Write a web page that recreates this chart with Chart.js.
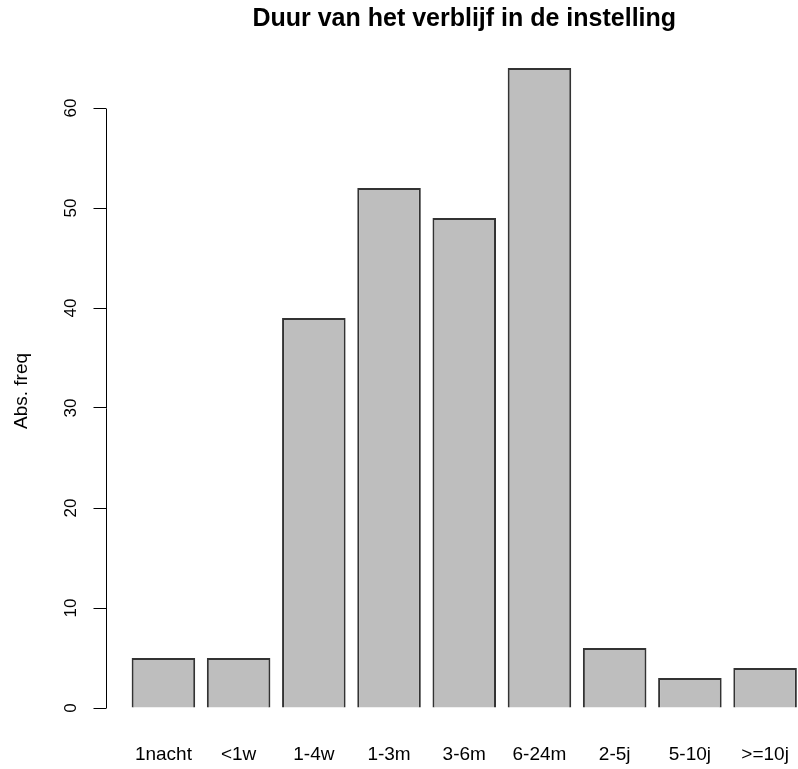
<!DOCTYPE html>
<html>
<head>
<meta charset="utf-8">
<script src="https://cdn.jsdelivr.net/npm/chart.js@4/dist/chart.umd.min.js"></script>
<style>
  html, body { margin: 0; padding: 0; background: #fff; overflow: hidden; }
  #wrap { width: 830px; height: 769px; }
</style>
</head>
<body>
<div id="wrap"><canvas id="verblijfChart"></canvas></div>
<script>
var categories = ["1nacht", "<1w", "1-4w", "1-3m", "3-6m", "6-24m", "2-5j", "5-10j", ">=10j"];
var counts = [5, 5, 39, 52, 49, 64, 6, 3, 4];
var yTicks = [0, 10, 20, 30, 40, 50, 60];

var FONT = "'Liberation Sans', Arial, Helvetica, sans-serif";

// R style axis: rotated tick labels, line only from first to last tick
var rAxis = {
  id: "rAxis",
  afterDraw: function (chart) {
    var c = chart.ctx, y = chart.scales.y, area = chart.chartArea;
    var x0 = Math.round(area.left) + 0.5;
    c.save();
    c.strokeStyle = "#000";
    c.lineWidth = 1;
    c.beginPath();
    c.moveTo(x0, Math.round(y.getPixelForValue(yTicks[0])) + 0.5);
    c.lineTo(x0, Math.round(y.getPixelForValue(yTicks[yTicks.length - 1])) + 0.5);
    c.stroke();
    c.fillStyle = "#000";
    c.font = "17px " + FONT;
    c.textAlign = "center";
    c.textBaseline = "middle";
    yTicks.forEach(function (v) {
      c.save();
      c.translate(area.left - 34.5, y.getPixelForValue(v));
      c.rotate(-Math.PI / 2);
      c.fillText(String(v), 0, 0);
      c.restore();
    });
    c.font = "19px " + FONT;
    c.save();
    c.translate(22, 391);
    c.rotate(-Math.PI / 2);
    c.fillText("Abs. freq", 0, 0);
    c.restore();
    c.restore();
  }
};

new Chart(document.getElementById("verblijfChart"), {
  type: "bar",
  data: {
    datasets: [{
      data: counts.map(function (v, i) { return { x: i, y: v }; }),
      backgroundColor: "#bebebe",
      borderColor: "#333",
      borderWidth: 2,
      barPercentage: 0.845,
      categoryPercentage: 1
    }]
  },
  options: {
    responsive: true,
    maintainAspectRatio: false,
    animation: false,
    layout: { padding: { left: 93.5, right: 7, top: 0, bottom: 0 } },
    plugins: {
      legend: { display: false },
      tooltip: { enabled: false },
      title: {
        display: true,
        fullSize: false,
        text: "Duur van het verblijf in de instelling",
        color: "#000",
        font: { family: FONT, size: 25, weight: "bold" },
        padding: { top: 4, bottom: 8.4 }
      }
    },
    scales: {
      x: {
        type: "linear",
        offset: false,
        min: -0.77,
        max: 8.77,
        afterBuildTicks: function (s) {
          s.ticks = categories.map(function (c, i) { return { value: i }; });
        },
        afterFit: function (s) { s.height = 35.4; },
        grid: { display: false, drawTicks: false },
        border: { display: false },
        ticks: {
          autoSkip: false,
          maxRotation: 0,
          padding: 9.6,
          color: "#000",
          font: { family: FONT, size: 19 },
          callback: function (v) { return categories[v]; }
        }
      },
      y: {
        min: -2.56,
        max: 66.56,
        afterBuildTicks: function (s) {
          s.ticks = yTicks.map(function (v) { return { value: v }; });
        },
        grid: { drawOnChartArea: false, drawTicks: true, tickLength: 12, color: "#000", lineWidth: 1 },
        border: { display: false },
        ticks: { display: false }
      }
    }
  },
  plugins: [rAxis]
});
</script>
</body>
</html>
